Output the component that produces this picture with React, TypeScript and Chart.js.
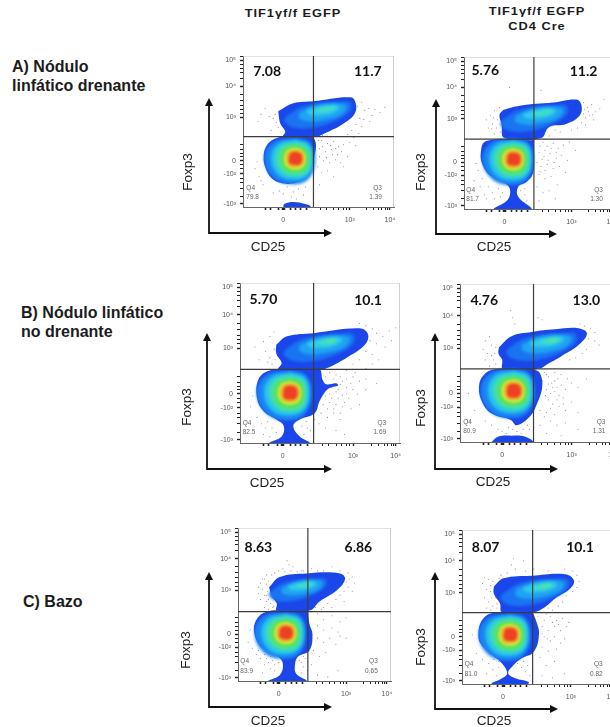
import React, { useEffect, useRef } from "react";
import { Chart, registerables } from "chart.js";

type Pt = number[];

// ---- axis ticks (channel units of the biexponential display, 0-150) ----
const xMajorTicks: [number, string][] = [[40, "0"], [106, "10³"], [146, "10⁴"]];
const yMajorTicks: [number, string][] = [[146, "10⁵"], [120, "10⁴"], [89, "10³"], [46, "0"], [33, "-10²"], [3, "-10³"]];
const xMinorTicks = [22, 27, 35, 47, 52, 57, 63, 77, 83, 90, 95, 100, 103, 123, 130, 135, 138, 142, 144];
const yMinorTicks = [150, 142, 138, 134, 128, 112, 106, 101, 97, 93, 62, 57, 53, 50, 42, 38, 28, 24, 18, 10];

// ---- shared density rings of the lower population, offsets from its peak ----
const ringBlue2: Pt[] = [[0, 19], [13, 15], [18, 0], [13, -17], [0, -23], [-19, -18], [-28, 0], [-20, 15]];
const ringCyan: Pt[] = [[0, 17], [12, 13], [16, 0], [12, -14], [0, -19], [-15, -15], [-22, 0], [-16, 13]];
const ringTeal: Pt[] = [[0, 15], [11, 11], [14, 0], [11, -12], [0, -16], [-12, -12], [-18, 0], [-13, 11]];
const ringGreen: Pt[] = [[0, 12.5], [9, 9], [12, 0], [9, -10], [0, -13], [-10, -10], [-14, 0], [-10, 9.5]];
const ringYellow: Pt[] = [[0, 10], [7, 7], [9.5, 0], [7, -7.5], [0, -10], [-7.5, -7.5], [-10.5, 0], [-7.5, 7.5]];
const ringOrange: Pt[] = [[0, 8], [6, 6], [8, 0], [6, -5.5], [0, -7.5], [-6, -6], [-8, 1], [-6, 6]];
const ringRed: Pt[] = [[0, 6], [4.5, 4.5], [6, 0], [4.5, -4.5], [0, -5.5], [-5, -4], [-5.5, 1], [-4, 5]];

// ---- shared density rings of the upper (Foxp3+) ridge, offsets from its peak ----
const ridgeMid: Pt[] = [[-40, -7], [-23, 3], [10, 7], [23, 7], [23, -2], [7, -12], [-13, -18], [-33, -18], [-42, -12]];
const ridgeLight: Pt[] = [[-27, -3], [-10, 4], [10, 6], [20, 3], [15, -5], [0, -10], [-15, -12], [-27, -9]];
const ridgeCyan: Pt[] = [[-20, -1], [-5, 3], [10, 4], [13, 1], [5, -4], [-8, -6], [-18, -5]];
const ridgeTeal: Pt[] = [[-10, 0], [3, 3], [9, 2], [6, -1], [-3, -3], [-10, -2]];
const ridgeGreen: Pt[] = [[-2, 1], [4, 1.5], [7, 1], [3, -1], [-2, -0.5]];

// ---- panel A, TIF1γf/f EGFP ----
const a1Lower: Pt[] = [[70, 70], [72.5, 62], [71, 50], [66, 35], [57, 26], [47, 23], [37, 24], [28, 29], [22, 40], [20.5, 50], [23, 60], [30, 67], [42, 70]];
const a1Upper: Pt[] = [[35, 95], [50, 103], [70, 105], [107, 109], [112, 103], [111, 93], [100, 83], [83, 74], [73, 70], [40, 70], [42, 75], [37, 83]];
const a1Base: Pt[] = [[40, 0], [41, 3], [50, 5], [62, 3], [67, 1], [67, 0]];
const a1Dots: Pt[] = [[114, 100], [118, 104], [121, 96], [125, 98], [128, 91], [131, 97], [136, 94], [141, 99], [116, 88], [120, 87], [126, 85], [112, 82], [118, 80], [108, 76], [115, 73], [78, 66], [84, 63], [90, 65], [95, 60], [100, 62], [106, 64], [112, 61], [76, 58], [82, 55], [88, 57], [94, 52], [98, 55], [104, 50], [76, 50], [80, 46], [86, 44], [92, 47], [97, 44], [100, 40], [74, 40], [78, 34], [84, 36], [70, 25], [76, 22], [90, 30], [18, 92], [22, 98], [26, 90], [30, 88], [15, 85], [28, 76], [14, 45], [12, 38], [16, 30], [18, 26], [20, 22], [44, 20], [50, 15], [55, 18], [60, 12], [48, 10], [53, 8], [62, 20], [40, 13], [36, 16], [70, 10], [30, 14], [87, 61], [92, 58], [79, 60], [83, 49], [89, 52], [75, 66], [79, 71], [104, 72], [110, 69], [32, 92], [33, 84], [35, 79]];

// ---- panel A, TIF1γf/f EGFP CD4 Cre ----
const a2Lower: Pt[] = [[69, 68], [69, 52], [68, 35], [62, 27], [53.5, 22], [53.5, 12], [66.5, 1], [66.5, 0], [30, 0], [43, 9], [45.5, 19], [41, 25], [27, 32], [19, 42], [16.5, 55], [22, 67]];
const a2Upper: Pt[] = [[39, 98], [55, 102], [88, 105], [111, 108], [116, 102], [114, 92], [101, 84], [84, 81], [76, 70], [40, 70], [37, 84], [35, 93]];
const a2Dots: Pt[] = [[118, 105], [122, 100], [126, 103], [130, 96], [134, 99], [138, 108], [120, 90], [124, 92], [128, 88], [116, 85], [120, 83], [112, 80], [106, 78], [95, 76], [90, 78], [84, 72], [45, 120], [76, 117], [35, 100], [30, 97], [26, 92], [22, 88], [28, 84], [32, 80], [24, 80], [30, 74], [36, 76], [78, 66], [82, 62], [88, 65], [93, 60], [98, 63], [104, 66], [110, 58], [74, 56], [79, 52], [85, 55], [91, 50], [96, 53], [102, 48], [72, 46], [76, 42], [82, 44], [88, 40], [94, 42], [100, 36], [74, 34], [80, 30], [86, 32], [92, 24], [72, 22], [78, 16], [84, 18], [90, 10], [74, 8], [12, 45], [14, 38], [10, 28], [18, 30], [16, 22], [24, 22], [28, 16], [22, 10], [34, 20], [36, 12], [56, 18], [60, 14], [62, 8], [75, 62], [80, 58], [86, 60], [91, 56], [77, 49], [83, 48], [89, 46], [75, 37], [80, 38], [119, 98], [123, 96], [127, 93], [118, 94], [33, 88], [29, 90], [27, 79], [20, 14], [30, 10], [38, 16], [60, 20]];

// ---- panel B, TIF1γf/f EGFP ----
const b1Lower: Pt[] = [[69, 69], [75, 69], [77.5, 59], [81, 55], [90, 56], [92, 54], [83, 51], [75, 40], [70, 28], [56, 22], [50, 16], [56, 6], [65, 0], [28, 0], [39, 6], [41, 16], [34, 22], [22, 30], [16, 42], [17, 59], [25, 67], [37, 69]];
const b1Upper: Pt[] = [[34, 92], [44, 100], [69, 103], [112, 107.5], [120, 102], [117, 92], [100, 80], [78, 69], [69, 69], [36, 69], [39, 75], [34, 84]];
const b1Dots: Pt[] = [[112, 112], [118, 110], [124, 107], [128, 103], [134, 100], [140, 105], [146, 108], [122, 96], [128, 93], [136, 90], [142, 96], [118, 86], [124, 83], [130, 78], [112, 78], [106, 74], [118, 70], [124, 74], [100, 68], [108, 66], [94, 62], [100, 60], [106, 62], [112, 58], [118, 60], [128, 56], [84, 66], [88, 60], [94, 55], [100, 52], [106, 50], [84, 46], [90, 48], [96, 45], [102, 42], [110, 46], [118, 50], [78, 36], [84, 38], [90, 36], [96, 34], [104, 32], [112, 36], [76, 28], [82, 24], [88, 28], [94, 22], [80, 14], [90, 12], [98, 8], [22, 95], [28, 100], [32, 104], [24, 86], [28, 80], [30, 74], [18, 78], [14, 90], [12, 44], [10, 34], [16, 24], [20, 18], [26, 20], [30, 14], [34, 10], [22, 8], [28, 6], [58, 16], [62, 20], [66, 12], [60, 8], [80, 62], [86, 52], [92, 50], [80, 44], [86, 42], [92, 42], [98, 38], [82, 32], [88, 32], [94, 28], [100, 46], [104, 56], [96, 58], [78, 46], [90, 64], [32, 88], [26, 76], [33, 78], [36, 22], [24, 14], [40, 20], [63, 14], [70, 22], [74, 18]];

// ---- panel B, TIF1γf/f EGFP CD4 Cre ----
const b2Lower: Pt[] = [[69.8, 69.5], [76, 65], [78, 52], [73, 36], [67, 25], [54, 16], [48, 21], [30, 27], [21, 38], [18, 52], [22, 63], [33, 69]];
const b2Upper: Pt[] = [[37, 90], [49, 100.5], [68, 104.5], [90, 107], [112.5, 108], [120.5, 103], [112.5, 92], [97, 82], [84, 74.5], [74.5, 69.5], [41, 69.5], [40, 78], [36.5, 84]];
const b2Base: Pt[] = [[30, 0], [36, 5], [49, 6], [62, 5], [69, 0]];
const b2Dots: Pt[] = [[48, 125], [50, 118], [52, 112], [74, 118], [78, 116], [114, 112], [118, 110], [124, 108], [128, 104], [122, 98], [128, 96], [132, 92], [120, 88], [116, 84], [110, 80], [104, 78], [28, 100], [24, 96], [30, 92], [22, 88], [26, 84], [32, 78], [28, 72], [24, 78], [34, 74], [80, 66], [84, 62], [90, 66], [96, 64], [102, 60], [78, 58], [84, 55], [90, 58], [96, 54], [100, 50], [82, 50], [86, 46], [90, 48], [94, 44], [98, 42], [106, 56], [112, 52], [120, 60], [84, 40], [88, 36], [94, 34], [100, 30], [106, 38], [112, 28], [76, 30], [80, 24], [86, 20], [92, 16], [100, 18], [76, 16], [82, 8], [96, 6], [112, 12], [8, 46], [14, 30], [24, 20], [30, 16], [36, 12], [40, 10], [46, 14], [54, 10], [60, 12], [64, 16], [58, 8], [82, 64], [87, 56], [93, 60], [88, 52], [92, 52], [81, 44], [86, 32], [92, 40], [98, 36], [82, 28], [90, 26], [33, 84], [30, 82], [34, 90], [66, 12], [44, 8], [50, 12], [62, 20], [70, 14]];

// ---- panel C, TIF1γf/f EGFP ----
const c1Lower: Pt[] = [[68.5, 68], [70, 56], [73, 46], [70, 30], [59, 24], [56, 17], [57, 7], [67, 0], [30, 0], [41, 6], [44, 17], [39, 24], [23, 33], [16, 47], [18, 60], [28, 68], [48, 69]];
const c1Upper: Pt[] = [[30.5, 92], [41, 102], [67, 105.5], [100, 105.5], [105, 100], [97, 89], [80, 78], [70, 69], [38, 69], [38, 76], [33, 83]];
const c1Dots: Pt[] = [[48, 118], [50, 114], [44, 110], [54, 112], [62, 108], [72, 110], [92, 112], [100, 108], [108, 106], [112, 102], [114, 96], [108, 92], [104, 88], [112, 88], [100, 84], [96, 80], [104, 78], [88, 76], [92, 72], [84, 72], [26, 100], [22, 96], [28, 104], [24, 90], [20, 86], [26, 84], [22, 80], [28, 78], [32, 76], [26, 72], [34, 72], [78, 66], [84, 60], [92, 64], [100, 58], [106, 62], [78, 54], [84, 50], [92, 52], [98, 48], [100, 44], [106, 42], [78, 42], [84, 38], [90, 42], [96, 36], [74, 30], [80, 24], [86, 28], [12, 50], [10, 38], [14, 32], [18, 26], [22, 22], [28, 22], [34, 20], [26, 16], [32, 12], [36, 10], [24, 8], [60, 20], [64, 14], [68, 10], [62, 8], [72, 16], [78, 6], [88, 4], [98, 10], [36, 106], [40, 108], [33, 104], [46, 107], [52, 108], [58, 107], [64, 108], [78, 108], [84, 108], [106, 97], [109, 100], [28, 95], [24, 100], [30, 98], [29, 88], [32, 90], [28, 84], [30, 80], [35, 73], [30, 70], [20, 92], [72, 68], [76, 72], [82, 70], [66, 22], [62, 18], [64, 24], [30, 18], [36, 16], [40, 18], [32, 24], [26, 26], [20, 30]];

// ---- panel C, TIF1γf/f EGFP CD4 Cre ----
const c2Lower: Pt[] = [[69, 69.5], [72, 62], [75, 49], [70, 31.5], [58, 25], [49, 17], [45, 10.5], [52, 5.5], [65, 2], [64, 0], [29, 0], [39, 5.5], [44, 10.5], [39, 20], [27.5, 30], [18, 39.5], [16, 49], [19.5, 62], [29, 69]];
const c2Upper: Pt[] = [[31, 95], [40.5, 103], [68, 105.5], [100.5, 107], [109, 101], [105.5, 93], [91, 83.5], [81, 75], [70, 70], [39, 70], [37, 78.5], [31, 88]];
const c2Dots: Pt[] = [[50, 122], [48, 116], [52, 112], [60, 120], [62, 110], [70, 112], [84, 110], [100, 112], [108, 110], [112, 106], [114, 100], [112, 94], [108, 90], [102, 86], [98, 80], [94, 76], [88, 72], [22, 104], [26, 102], [20, 98], [28, 96], [24, 92], [22, 84], [26, 80], [30, 76], [24, 74], [34, 74], [74, 66], [80, 62], [86, 66], [92, 62], [98, 64], [104, 60], [78, 56], [84, 52], [90, 56], [96, 52], [102, 56], [80, 46], [86, 42], [90, 46], [96, 40], [100, 44], [78, 36], [84, 32], [92, 34], [76, 26], [82, 18], [90, 22], [78, 8], [88, 6], [100, 10], [10, 48], [14, 30], [20, 24], [26, 20], [30, 14], [24, 10], [34, 8], [36, 16], [54, 20], [58, 16], [62, 12], [66, 8], [60, 22], [38, 106], [44, 108], [36, 103], [30, 100], [28, 90], [33, 84], [29, 84], [28, 72], [34, 78], [76, 70], [84, 74], [88, 60], [94, 58], [82, 68], [78, 49], [83, 44], [31, 24], [36, 22], [40, 24], [64, 18]];

// ---- gate values and quadrant read-outs ----
const gateX = [70, 69, 69, 69.8, 68.5, 68.8];
const gateY = [70, 69, 69, 69.5, 68, 69.5];
const upperLeftPct = ["7.08", "5.76", "5.70", "4.76", "8.63", "8.07"];
const upperRightPct = ["11.7", "11.2", "10.1", "13.0", "6.86", "10.1"];
const q4Pct = ["79.8", "81.7", "82.5", "80.9", "83.9", "81.0"];
const q3Pct = ["1.39", "1.30", "1.69", "1.31", "0.65", "0.82"];

const columnTitle = "TIF1γf/f EGFP";
const columnSubtitle = "CD4 Cre";
const xAxisLabel = "CD25";
const yAxisLabel = "Foxp3";

// ---- layout ----
const FONT = "'Liberation Sans', Arial, sans-serif";
const panels = [
  { box: [243, 56, 151, 151], arrow: [209, 98, 233, 332], xl: [268, 247], yl: [188, 172], n1: [24, 135], n2: [124, 135], qL: 3.3, qR: 138, lower: a1Lower, upper: a1Upper, base: a1Base, dots: a1Dots, lc: [52, 48], uc: [83, 97], ls: 1.1, us: 1, green: false },
  { box: [464, 57, 152, 152], arrow: [436, 99, 234, 557], xl: [494, 247], yl: [421, 172], n1: [21, 136.5], n2: [118, 136], qL: 2.3, qR: 137, lower: a2Lower, upper: a2Upper, base: null, dots: a2Dots, lc: [49, 49], uc: [78, 95], ls: 1.1, us: 1, green: false },
  { box: [240, 283, 160, 160], arrow: [207, 333, 469, 332], xl: [267, 483], yl: [187, 407], n1: [22, 135], n2: [120, 134], qL: 2.5, qR: 137, lower: b1Lower, upper: b1Upper, base: null, dots: b1Dots, lc: [47, 47], uc: [83, 95], ls: 1.12, us: 1, green: true },
  { box: [460, 284, 158, 158], arrow: [435, 333, 469, 558], xl: [493, 482], yl: [421, 408], n1: [23, 134], n2: [120, 134], qL: 3, qR: 138, lower: b2Lower, upper: b2Upper, base: b2Base, dots: b2Dots, lc: [51, 48.5], uc: [86, 96], ls: 1.12, us: 1, green: true },
  { box: [238, 528, 153, 153], arrow: [209, 572, 707, 332], xl: [268, 721], yl: [186, 650], n1: [20, 131], n2: [118, 131], qL: 2.3, qR: 137, lower: c1Lower, upper: c1Upper, base: null, dots: c1Dots, lc: [47, 47], uc: [66, 94], ls: 1.1, us: 0.85, green: false },
  { box: [462, 530, 154, 154], arrow: [435, 572, 709, 558], xl: [494, 721], yl: [421, 647], n1: [23, 133], n2: [115, 133], qL: 2.6, qR: 137, lower: c2Lower, upper: c2Upper, base: null, dots: c2Dots, lc: [47, 48], uc: [79.5, 95], ls: 1.1, us: 1, green: true },
];

const MARGIN_L = 70;
const MARGIN_T = 10;
const MARGIN_R = 6;
const MARGIN_B = 50;

const toXY = (p: Pt[]) => p.map(([x, y]) => ({ x, y }));
const closed = (p: Pt[]) => toXY([...p, p[0]]);
const around = (ring: Pt[], c: number[], s: number) => closed(ring.map(([dx, dy]) => [c[0] + dx * s, c[1] + dy * s]));

const region = (data: any[], color: string, blurPx: number) => ({
  type: "line",
  data,
  parsing: { xAxisKey: "x", yAxisKey: "y" },
  backgroundColor: color,
  borderWidth: 0,
  pointRadius: 0,
  tension: 0.4,
  fill: "shape",
  blurPx,
});
const rule = (data: any[], color: string, width: number) => ({
  type: "line",
  data,
  borderColor: color,
  borderWidth: width,
  pointRadius: 0,
  tension: 0,
  fill: false,
});

// Must be registered ahead of the Filler plugin so its blur reaches the fills.
const softLayers = {
  id: "softLayers",
  beforeDatasetDraw(chart: any, args: any) {
    const b = chart.data.datasets[args.index].blurPx;
    if (b) {
      chart.ctx.save();
      chart.ctx.filter = `blur(${b}px)`;
    }
  },
  afterDatasetDraw(chart: any, args: any) {
    if (chart.data.datasets[args.index].blurPx) chart.ctx.restore();
  },
};
Chart.register(softLayers);
Chart.register(...registerables);

const decorations = {
  id: "decorations",
  afterDraw(chart: any) {
    const o = chart.options.plugins.decorations;
    const { ctx, scales } = chart;
    const p = o.panel;
    const i = o.index;
    const ox = p.box[0] - MARGIN_L;
    const oy = p.box[1] - MARGIN_T;
    const [ax, top, bottom, right] = p.arrow;
    ctx.save();
    // axis arrows
    ctx.strokeStyle = "#111";
    ctx.fillStyle = "#111";
    ctx.lineWidth = 1.8;
    ctx.beginPath();
    ctx.moveTo(ax - ox, top - oy + 4);
    ctx.lineTo(ax - ox, bottom - oy);
    ctx.lineTo(right - ox - 4, bottom - oy);
    ctx.stroke();
    ctx.beginPath();
    ctx.moveTo(ax - ox, top - oy);
    ctx.lineTo(ax - ox - 4, top - oy + 8);
    ctx.lineTo(ax - ox + 4, top - oy + 8);
    ctx.closePath();
    ctx.fill();
    ctx.beginPath();
    ctx.moveTo(right - ox, bottom - oy);
    ctx.lineTo(right - ox - 8, bottom - oy - 4);
    ctx.lineTo(right - ox - 8, bottom - oy + 4);
    ctx.closePath();
    ctx.fill();
    // axis titles
    ctx.fillStyle = "#222";
    ctx.font = `13.5px ${FONT}`;
    ctx.textAlign = "center";
    ctx.textBaseline = "middle";
    ctx.fillText(xAxisLabel, p.xl[0] - ox, p.xl[1] - oy);
    ctx.save();
    ctx.translate(p.yl[0] - ox, p.yl[1] - oy);
    ctx.rotate(-Math.PI / 2);
    ctx.fillText(yAxisLabel, 0, 0);
    ctx.restore();
    // quadrant read-outs
    const X = (v: number) => scales.x.getPixelForValue(v);
    const Y = (v: number) => scales.y.getPixelForValue(v);
    ctx.fillStyle = "#111";
    ctx.font = "bold 14px Lato, sans-serif";
    ctx.fillText(upperLeftPct[i], X(p.n1[0]), Y(p.n1[1]));
    ctx.fillText(upperRightPct[i], X(p.n2[0]), Y(p.n2[1]));
    ctx.fillStyle = "#666";
    ctx.font = `6.5px ${FONT}`;
    ctx.textAlign = "left";
    ctx.fillText("Q4", X(p.qL), Y(19));
    ctx.fillText(q4Pct[i], X(p.qL), Y(10));
    ctx.textAlign = "right";
    ctx.fillText("Q3", X(p.qR), Y(19));
    ctx.fillText(q3Pct[i], X(p.qR), Y(10));
    ctx.restore();
  },
};

function buildTicks(majors: [number, string][], minors: number[]) {
  return [...majors.map(([v]) => v), ...minors].sort((a, b) => a - b).map((value) => ({ value }));
}

function Panel({ index }: { index: number }) {
  const ref = useRef<HTMLCanvasElement>(null);
  const p = panels[index];
  const [bx, by, bw, bh] = p.box;
  const cw = bw + MARGIN_L + MARGIN_R;
  const ch = bh + MARGIN_T + MARGIN_B;

  useEffect(() => {
    const gx = gateX[index];
    const gy = gateY[index];
    const bottomUp: any[] = [
      { type: "scatter", data: toXY(p.dots), backgroundColor: "rgba(90,90,90,0.7)", borderWidth: 0, pointRadius: 0.55, showLine: false },
      region(closed(p.upper), "#1a46ea", 0.5),
      region(closed(p.lower), "#1a46ea", 0.5),
      ...(p.base ? [region(closed(p.base), "#1a46ea", 0.5)] : []),
      region(around(ridgeMid, p.uc, p.us), "#1a74f2", 1.8),
      region(around(ridgeLight, p.uc, p.us), "#1fa4f2", 1.8),
      region(around(ridgeCyan, p.uc, p.us), "#30cbea", 1.5),
      region(around(ridgeTeal, p.uc, p.us), "#3fdcc8", 1.2),
      ...(p.green ? [region(around(ridgeGreen, p.uc, p.us), "#58e29a", 1)] : []),
      region(around(ringBlue2, p.lc, p.ls), "#1a84f4", 1.5),
      region(around(ringCyan, p.lc, p.ls), "#27c4ec", 1.5),
      region(around(ringTeal, p.lc, p.ls), "#40dfb0", 1.4),
      region(around(ringGreen, p.lc, p.ls), "#5ae25f", 1.3),
      region(around(ringYellow, p.lc, p.ls), "#c8e83a", 1.2),
      region(around(ringOrange, p.lc, p.ls), "#f2a52c", 1),
      region(around(ringRed, p.lc, p.ls), "#ee4024", 0.9),
      rule(toXY([[0, 150], [150, 150], [150, 0]]), "#c8c8c8", 1),
      rule(toXY([[gx, 0], [gx, 150]]), "#3c3c3c", 1.2),
      rule(toXY([[0, gy], [150, gy]]), "#3c3c3c", 1.2),
    ];

    const makeAxis = (majors: [number, string][], minors: number[], isX: boolean) => ({
      type: "linear",
      min: 0,
      max: 150,
      afterBuildTicks(scale: any) {
        scale.ticks = buildTicks(majors, minors);
      },
      afterFit(scale: any) {
        if (isX) scale.height = MARGIN_B;
        else scale.width = MARGIN_L;
        scale.paddingLeft = scale.paddingRight = scale.paddingTop = scale.paddingBottom = 0;
      },
      border: { display: true, color: "#666", width: 1 },
      grid: {
        drawOnChartArea: false,
        drawTicks: true,
        tickLength: 3,
        tickColor: "#222",
        tickWidth: (ctx: any) => {
          const v = ctx.tick ? ctx.tick.value : -1;
          if (isX && v === 40) return 3.5;
          if (isX && v >= 22 && v <= 63) return 1.6;
          return majors.some(([t]) => t === v) ? 1.4 : 1;
        },
      },
      ticks: {
        autoSkip: false,
        maxRotation: 0,
        minRotation: 0,
        padding: isX ? 6 : 4,
        color: "#555",
        font: { size: 7, family: FONT },
        callback: (v: number) => {
          const m = majors.find(([t]) => t === v);
          return m ? m[1] : "";
        },
      },
    });

    const chart = new Chart(ref.current as HTMLCanvasElement, {
      type: "line",
      data: { datasets: bottomUp.reverse() },
      options: {
        responsive: false,
        animation: false,
        devicePixelRatio: 1,
        layout: { padding: { top: MARGIN_T, right: MARGIN_R, left: 0, bottom: 0 } },
        scales: { x: makeAxis(xMajorTicks, xMinorTicks, true), y: makeAxis(yMajorTicks, yMinorTicks, false) },
        plugins: {
          legend: { display: false },
          tooltip: { enabled: false },
          decorations: { panel: p, index },
        },
      },
      plugins: [decorations],
    } as any);
    return () => chart.destroy();
  }, []);

  return (
    <canvas
      ref={ref}
      width={cw}
      height={ch}
      style={{ position: "absolute", left: bx - MARGIN_L, top: by - MARGIN_T, width: cw, height: ch }}
    />
  );
}

const textBase: React.CSSProperties = { position: "absolute", fontFamily: FONT, color: "#1c1c1c", whiteSpace: "nowrap" };

function RowLabel({ x, y, text }: { x: number; y: number; text: string }) {
  return (
    <div style={{ ...textBase, left: x, top: y - 9, fontWeight: 700, fontSize: 16, lineHeight: "18px" }}>{text}</div>
  );
}

function ColTitle({ cx, y, text }: { cx: number; y: number; text: string }) {
  return (
    <div
      style={{
        ...textBase,
        left: cx,
        top: y - 7,
        transform: "translateX(-50%) scaleX(1.22)",
        fontWeight: 700,
        fontSize: 10.5,
        lineHeight: "14px",
        letterSpacing: 0.8,
      }}
    >
      {text}
    </div>
  );
}

export default function App() {
  return (
    <div
      style={{
        position: "absolute",
        left: 0,
        top: 0,
        width: 610,
        height: 727,
        overflow: "hidden",
        background: "#fff",
        filter: "blur(0.4px)",
      }}
    >
      <ColTitle cx={293} y={13} text={columnTitle} />
      <ColTitle cx={537} y={11} text={columnTitle} />
      <ColTitle cx={537} y={26} text={columnSubtitle} />
      <RowLabel x={12} y={67} text="A) Nódulo" />
      <RowLabel x={12} y={86} text="linfático drenante" />
      <RowLabel x={21} y={313} text="B) Nódulo linfático" />
      <RowLabel x={21} y={332} text="no drenante" />
      <RowLabel x={23} y={602} text="C) Bazo" />
      {panels.map((_, i) => (
        <Panel key={i} index={i} />
      ))}
    </div>
  );
}
